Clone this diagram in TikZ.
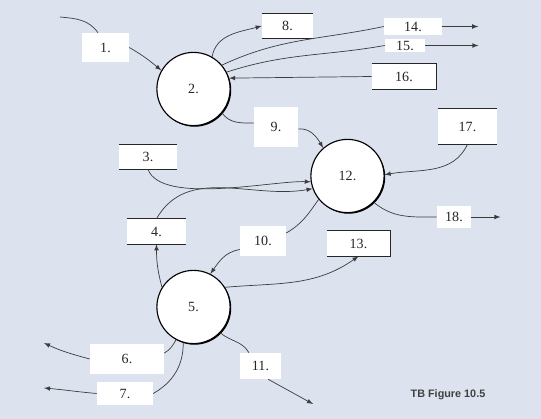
\documentclass[tikz,border=0pt]{standalone}
\usepackage{fontspec}
\setmainfont{Liberation Serif}
\newfontfamily\captfont{Liberation Sans}
\usetikzlibrary{positioning}
\usetikzlibrary{shadows}
\definecolor{bgblue}{RGB}{220,227,239}
\definecolor{flowgray}{RGB}{60,60,60}

\begin{document}
\begin{tikzpicture}[
    x=0.025cm, y=-0.025cm,
    >=latex,
    % node styles
    lbl/.style 2 args = {
      fill=white, draw=none, inner sep=0pt,
      minimum width=#1*0.025cm, minimum height=#2*0.025cm,
      font=\fontsize{10}{12}\selectfont, text=black!85
    },
    proc/.style = {
      circle, fill=white, draw=black, line width=0.8pt,
      minimum size=1.83cm, inner sep=0pt,
      font=\fontsize{10}{12}\selectfont, text=black!85,
      drop shadow={shadow xshift=0.8pt, shadow yshift=-0.8pt, opacity=1, fill=black}
    },
    % line styles
    storeline/.style = {line width=1pt, draw=black!85},
    flow/.style = {line width=0.5pt, draw=flowgray},
    arr/.style = {->, line width=0.5pt, draw=flowgray}
  ]

  \useasboundingbox[fill=bgblue] (0,0) rectangle (541,419);

  % --- Nodes
  \node[proc] (c2) at (193.5,89) {2.};
  \node[proc] (c12) at (347.5,176) {12.};
  \node[proc] (c5) at (193.5,307) {5.};

  \node[lbl={47}{29}] (l1) at (105.5,47.5) {1.};
  \node[lbl={44}{40}] (l9) at (276,127) {9.};
  \node[lbl={46}{30}] (l10) at (263,241) {10.};
  \node[lbl={41}{26}] (l11) at (260.5,366) {11.};
  \node[lbl={58}{17}] (l14) at (413,26.5) {14.};
  \node[lbl={40}{13}] (l15) at (405,45.5) {15.};
  \node[lbl={34}{22}] (l18) at (454,217) {18.};
  \node[lbl={74}{30}] (l6) at (127,359) {6.};
  \node[lbl={56}{23}] (l7) at (125,393.5) {7.};

  % data stores
  \node[lbl={58}{24}] (st3) at (148,157) {3.};
  \node[lbl={59}{25}] (st4) at (156.5,231.5) {4.};
  \node[lbl={51}{24}] (st8) at (287.5,26) {8.};
  \node[lbl={63}{25}] (st13) at (358.5,243.5) {13.};
  \node[lbl={64}{25}] (st16) at (404,76.5) {16.};
  \node[lbl={59}{35}] (st17) at (467.5,126.5) {17.};

  \draw[storeline] (st3.north west) -- (st3.north east) (st3.south west) -- (st3.south east);
  \draw[storeline] (st4.north west) -- (st4.north east) (st4.south west) -- (st4.south east);
  \draw[storeline] (st8.north west) -- (st8.north east) (st8.south west) -- (st8.south east);
  \draw[storeline] (st17.north west) -- (st17.north east) (st17.south west) -- (st17.south east);
  \draw[storeline] (st13.north west) -- (st13.north east) -- (st13.south east) -- (st13.south west);
  \draw[storeline] (st16.north west) -- (st16.north east) -- (st16.south east) -- (st16.south west);

  % free ends
  \coordinate (s1) at (60,17);
  \coordinate[right=0.9cm of l14] (e14);
  \coordinate[right=1.33cm of l15] (e15);
  \coordinate[right=0.73cm of l18] (e18);
  \coordinate (e6) at (44,343);
  \coordinate (e7) at (44,388);
  \coordinate (e11) at (313,404);

  \node[font=\captfont\bfseries\fontsize{7.7}{9}\selectfont, text=black!75] (capt) at (448,395) {TB Figure 10.5};

  % --- Arrows
  \draw[flow] (s1) to[out=-5, in=125] (l1.117);
  \draw[arr] (l1.east) to[out=-30, in=140] (c2.150);

  \draw[arr] (c2.60) to[out=80, in=195] (st8.west);
  \draw[flow] (c2.40) to[out=25, in=192] (l14.west);
  \draw[arr] (l14.east) -- (e14);
  \draw[flow] (c2.27) to[out=18, in=190] (l15.west);
  \draw[arr] (l15.east) -- (e15);
  \draw[arr] (st16.west) -- (c2.17);

  \draw[flow] (c2.-40) to[out=-55, in=180] (l9.170);
  \draw[arr] (l9.-5) to[out=5, in=120] (c12.131);

  \draw[arr] (st3.south) to[out=-70, in=178, looseness=0.6] (c12.189);
  \draw[arr] (st4.north) to[out=60, in=190] (c12.200);
  \draw[arr] (st17.south) to[out=-115, in=10] (c12.2);
  \draw[flow] (c12.-45) to[out=-40, in=180] (l18.west);
  \draw[arr] (l18.east) -- (e18);

  \draw[flow] (c12.219) to[out=235, in=30] (l10.19);
  \draw[arr] (l10.200) to[out=190, in=55] (c5.63);

  \draw[arr] (c5.32) to[out=5, in=215] (st13.south);
  \draw[arr] (c5.148) to[out=105, in=-90] (st4.south);

  \draw[flow] (c5.242) to[out=-120, in=30] (l6.9);
  \draw[arr] (l6.west) to[out=165, in=-25] (e6);
  \draw[flow] (c5.254) to[out=-90, in=30] (l7.east);
  \draw[arr] (l7.west) to[out=175, in=-5] (e7);
  \draw[flow] (c5.-44) to[out=-40, in=120] (l11.131);
  \draw[arr] (l11.-60) -- (e11);

\end{tikzpicture}
\end{document}
